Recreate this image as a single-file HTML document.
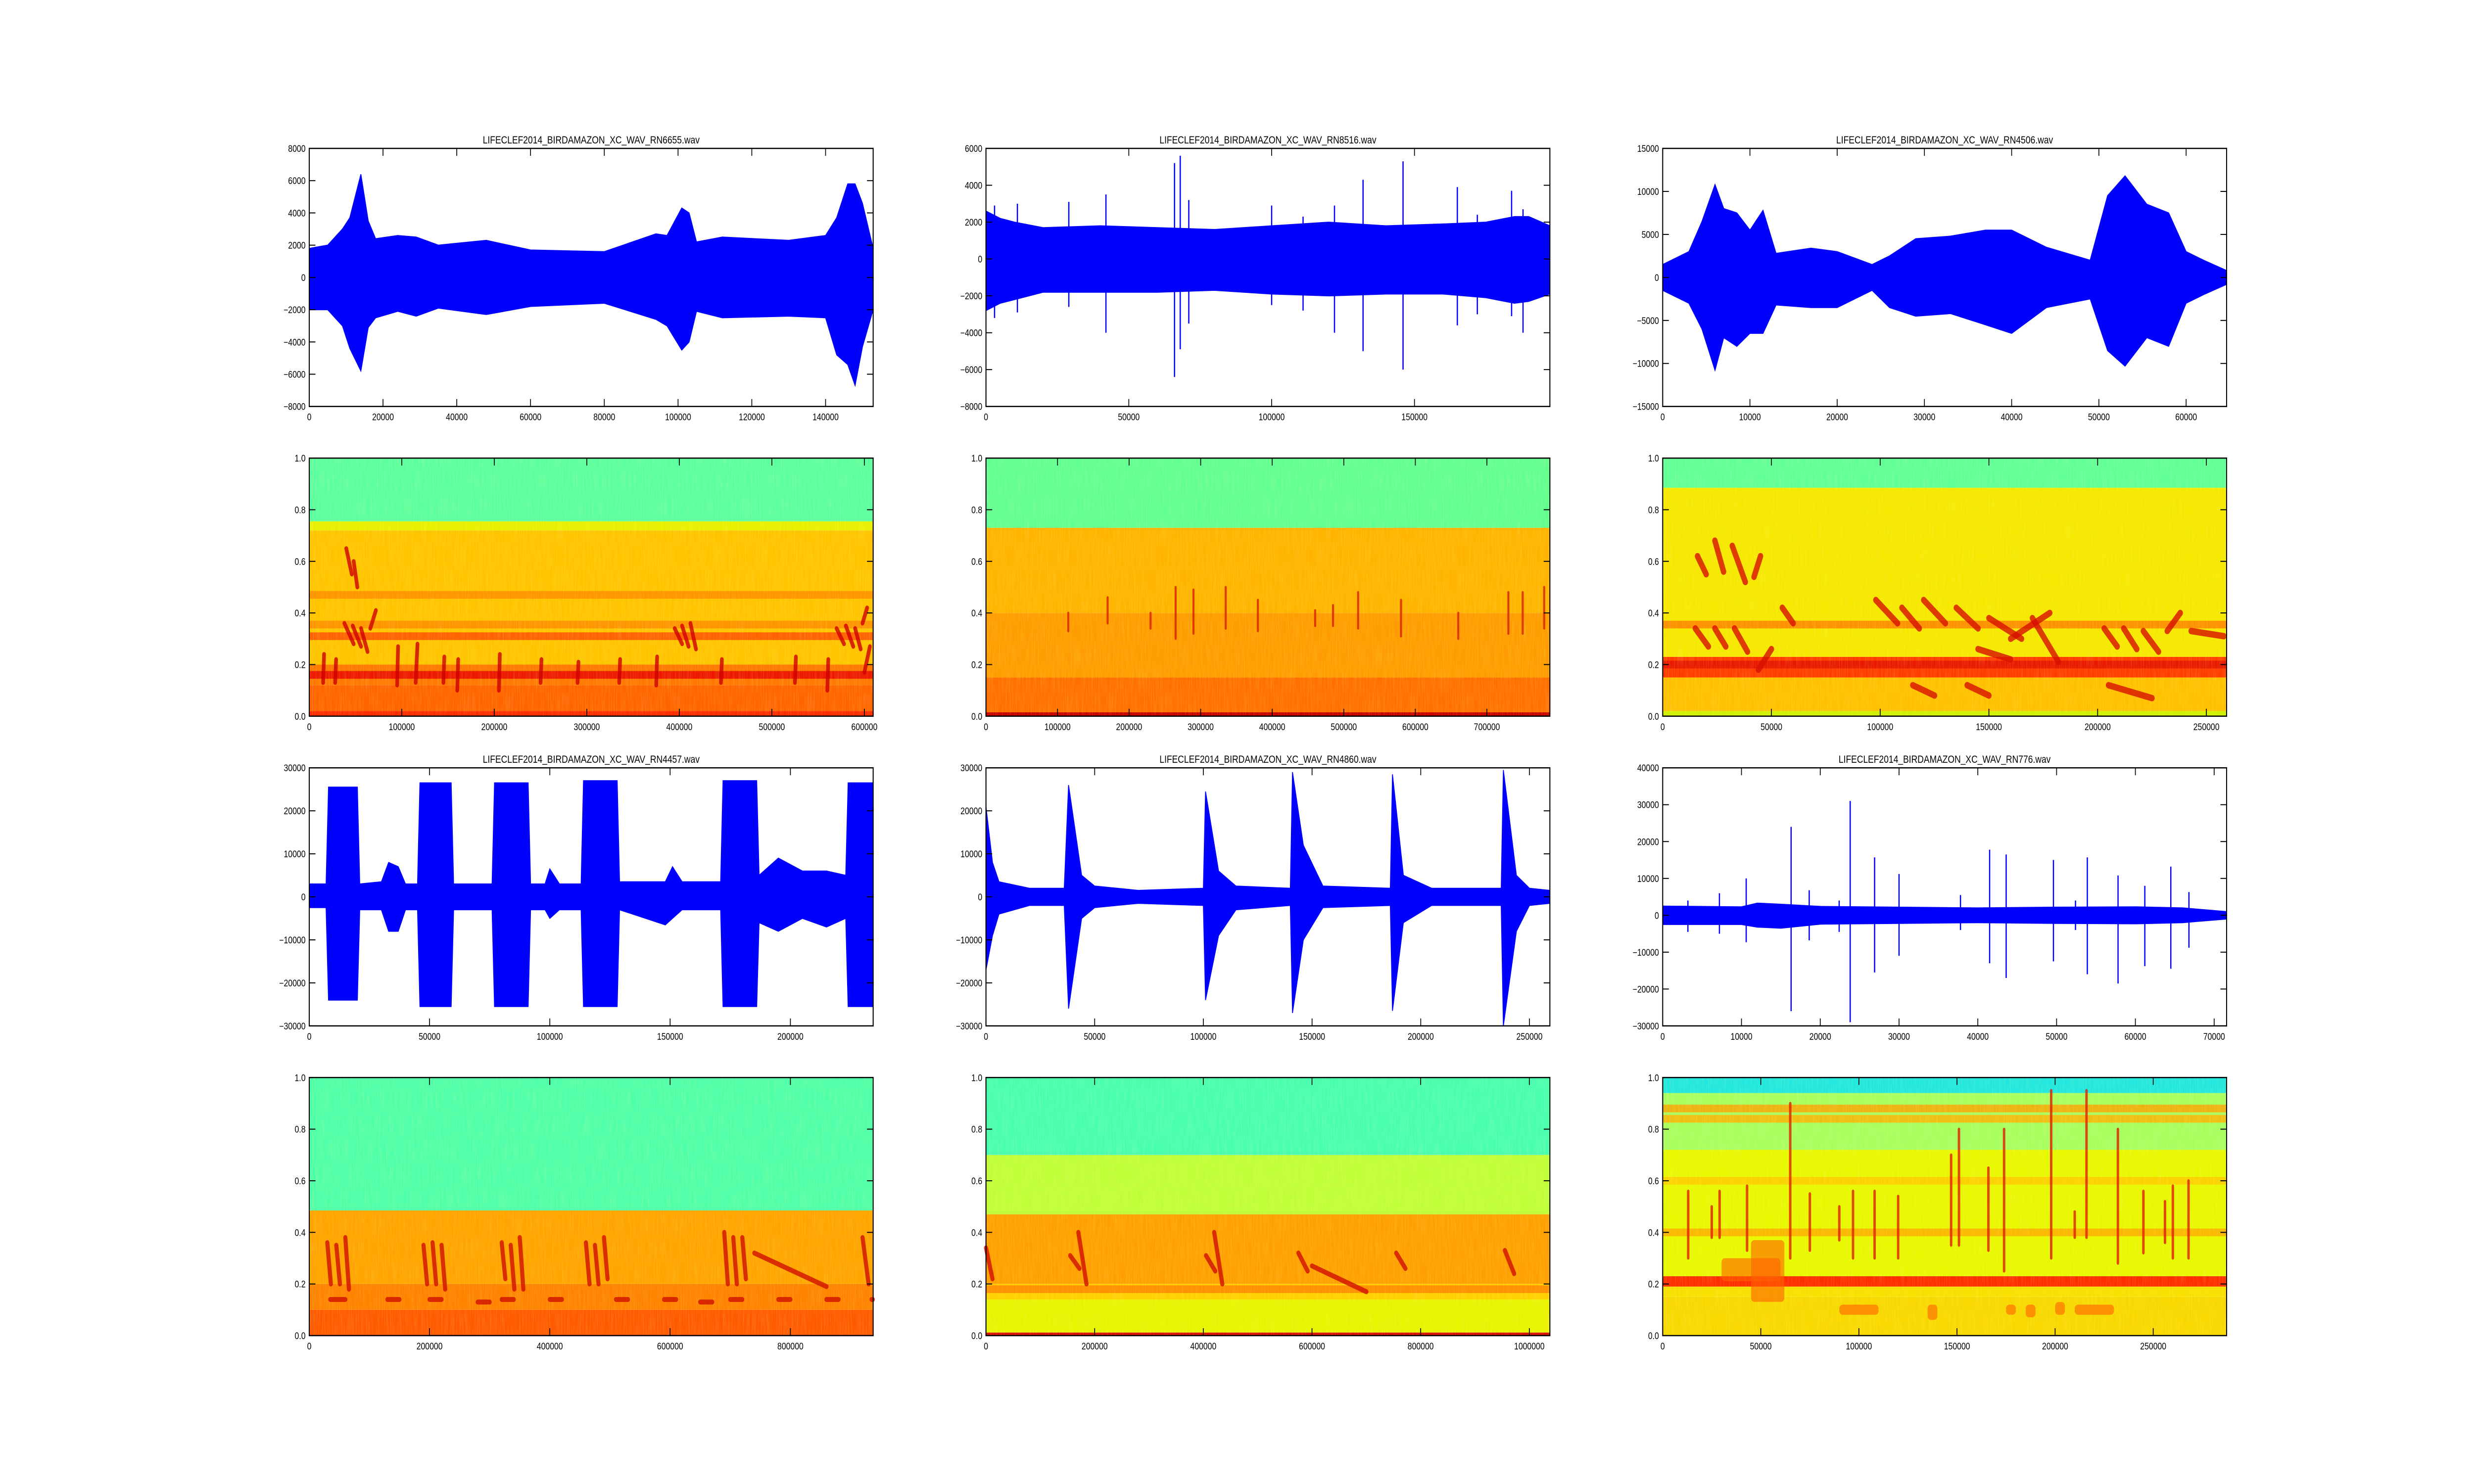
<!DOCTYPE html>
<html><head><meta charset="utf-8">
<style>
html,body{margin:0;padding:0;background:#fff;overflow:hidden;width:100%;height:100%;}
svg{display:block;position:absolute;left:0;top:0;width:100vw;height:100vh;}
text{font-family:"Liberation Sans",sans-serif;fill:#000;}
</style></head>
<body>
<svg id="fig" viewBox="0 0 6000 3000" preserveAspectRatio="none" xmlns="http://www.w3.org/2000/svg">
<defs>
<filter id="grain" x="0" y="0" width="1" height="1">
<feTurbulence type="fractalNoise" baseFrequency="0.35 0.02" numOctaves="2" seed="3" result="n"/>
<feColorMatrix in="n" type="matrix" values="0 0 0 0 1  0 0 0 0 1  0 0 0 0 0.3  0 0 0 -1.2 0.75" result="c"/>
<feComposite in="c" in2="SourceGraphic" operator="in"/>
</filter>
</defs>
</svg>
<script>
// ---------- Panel 1 waveform (RN6655) ----------
const w1EnvX=[0,5000,9000,11000,14000,16000,18000,24000,29000,35000,48000,60000,80000,94000,97000,101000,103000,105000,112000,130000,140000,143000,146000,148000,150000,152900];
const w1EnvHi=[1800,2000,3000,3700,6400,3500,2400,2600,2500,2000,2300,1700,1600,2700,2600,4300,4000,2200,2500,2300,2600,3700,5800,5800,4600,1800];
const w1EnvLo=[-2000,-2000,-3000,-4400,-5800,-3100,-2500,-2100,-2400,-1900,-2300,-1800,-1600,-2600,-3000,-4500,-4000,-2100,-2500,-2400,-2500,-4800,-5400,-6700,-4300,-2000];
// ---------- Panel 2 waveform (RN8516) ----------
const w2EnvX=[0,5000,10000,20000,40000,60000,80000,100000,120000,140000,160000,175000,185000,190000,197400];
const w2EnvHi=[2600,2200,2000,1700,1800,1700,1600,1800,2000,1800,1900,2000,2300,2300,1800];
const w2EnvLo=[-2800,-2400,-2200,-1800,-1800,-1800,-1700,-1900,-2000,-1900,-1900,-2100,-2400,-2300,-1900];
const w2SpX=[3000,11000,29000,42000,66000,68000,71000,100000,111000,122000,132000,146000,165000,172000,184000,188000];
const w2SpHi=[2900,3000,3100,3500,5200,5600,3200,2900,2300,2900,4300,5300,3900,2400,3700,2700];
const w2SpLo=[-3200,-2900,-2600,-4000,-6400,-4900,-3500,-2500,-2800,-4000,-5000,-6000,-3600,-3000,-3100,-4000];
// ---------- Panel 3 waveform (RN4506) ----------
const w3EnvX=[0,3000,4500,6000,7000,8500,10000,11500,13000,17000,20000,24000,26000,29000,33000,37000,40000,44000,49000,51000,53000,55500,58000,60000,62000,64640];
const w3EnvHi=[1500,3000,6500,10800,8000,7500,5500,7800,2800,3400,3000,1500,2500,4500,4800,5500,5500,3500,2000,9500,11800,8500,7500,3000,2000,800];
const w3EnvLo=[-1500,-3000,-6000,-10800,-7000,-8000,-6500,-6500,-3200,-3500,-3500,-1500,-3500,-4500,-4200,-5500,-6500,-3500,-2500,-8500,-10300,-7000,-8000,-3000,-2000,-800];
// ---------- Panel 4 waveform (RN4457) ----------
const w4EnvX=[0,7000,8000,20000,21000,30000,33000,37000,40000,45000,46000,59000,60000,76000,77000,91000,92000,98000,100000,104000,113000,114000,128000,129000,148000,151000,155000,171000,172000,186000,187000,195000,205000,215000,223000,224000,234400];
const w4EnvHi=[3000,3000,25500,25500,3000,3500,8000,7000,3000,3000,26500,26500,3000,3000,26500,26500,3000,3000,6500,3000,3000,27000,27000,3500,3500,7000,3500,3500,27000,27000,5000,9000,6000,6000,5000,26500,26500];
const w4EnvLo=[-2500,-2500,-24000,-24000,-3000,-3000,-8000,-8000,-3000,-3000,-25500,-25500,-3000,-3000,-25500,-25500,-3000,-3000,-5000,-3000,-3000,-25500,-25500,-3000,-6500,-5000,-3000,-3000,-25500,-25500,-6000,-8000,-5000,-7000,-5000,-25500,-25500];
// ---------- Panel 5 waveform (RN4860) ----------
const w5EnvX=[0,3000,6000,20000,36000,38000,44000,50000,70000,100000,101000,107000,115000,140000,141000,146000,155000,186000,187000,192000,205000,237000,238000,244000,250000,259400];
const w5EnvHi=[21000,8000,3500,2000,2000,26000,5000,2500,1500,2000,24500,6000,2500,2000,29000,12000,2500,2000,28500,5000,2000,2000,29500,5000,2000,1500];
const w5EnvLo=[-17000,-9000,-4000,-2000,-2000,-26000,-5000,-2500,-1500,-2000,-24000,-9000,-3000,-2000,-27000,-10000,-2500,-2000,-26500,-6000,-2000,-2000,-30000,-8000,-2000,-1500];
// ---------- Panel 6 waveform (RN776) ----------
const w6EnvX=[0,10000,12000,15000,20000,30000,40000,50000,60000,66000,71580];
const w6EnvHi=[2500,2300,3300,3000,2400,2200,2000,2200,2300,2000,1000];
const w6EnvLo=[-2500,-2500,-3200,-3500,-2400,-2200,-2000,-2200,-2300,-2000,-1000];
const w6SpX=[3200,7200,10600,16300,18600,22400,23800,26900,30000,37800,41500,43600,49600,52400,53900,57800,61200,64500,66800];
const w6SpHi=[4000,6000,10000,24000,6800,4000,31000,15700,11200,5500,17800,16500,15000,4000,15700,10800,8000,13200,6300];
const w6SpLo=[-4500,-5000,-7300,-26000,-6800,-4500,-29000,-15500,-11000,-4000,-13000,-17000,-12500,-4000,-16000,-18500,-13800,-14500,-8800];

// ---------- Spectrogram bands (freq 0..1) ----------
const s1BandF0=[0,0.02,0.12,0.2,0.72,0.755];
const s1BandF1=[0.02,0.12,0.2,0.72,0.755,1.0];
const s1BandC=["#ff2a00","#ff6400","#ff7800","#ffc400","#e8f000","#5cffa0"];
const s1LineF=[0.16,0.31,0.355,0.47];
const s1LineC=["#e80000","#ff4a00","#ff8800","#ff8a00"];
const s1CallX0=[38000,47000,56000,66000,40000,48000,395000,403000,412000,570000,580000,590000,598000,600000,15000,28000,95000,115000,145000,160000,205000,250000,290000,335000,375000,445000,525000,560000];
const s1CallX1=[48000,56000,63000,72000,46000,52000,403000,410000,418000,578000,588000,596000,603000,606000,16000,29000,96000,117000,146000,161000,206000,251000,291000,336000,376000,446000,526000,561000];
const s1CallF0=[0.36,0.35,0.34,0.34,0.65,0.6,0.34,0.35,0.36,0.34,0.35,0.34,0.36,0.17,0.13,0.13,0.12,0.13,0.13,0.1,0.1,0.13,0.13,0.13,0.12,0.13,0.13,0.1];
const s1CallF1=[0.28,0.27,0.25,0.41,0.55,0.5,0.28,0.27,0.26,0.28,0.27,0.26,0.42,0.27,0.24,0.22,0.27,0.28,0.23,0.22,0.24,0.22,0.21,0.22,0.23,0.22,0.23,0.22];

const s2BandF0=[0,0.015,0.15,0.4,0.73];
const s2BandF1=[0.015,0.15,0.4,0.73,1.0];
const s2BandC=["#c80000","#ff7000","#ff9c00","#ffb400","#62ff92"];
const s2LineF=[];
const s2LineC=[];
const s2CallX=[115000,170000,230000,265000,290000,335000,380000,460000,485000,520000,580000,660000,730000,750000,780000];
const s2CallF0=[0.33,0.36,0.34,0.3,0.32,0.34,0.33,0.35,0.35,0.34,0.31,0.3,0.32,0.32,0.34];
const s2CallF1=[0.4,0.46,0.4,0.5,0.49,0.5,0.45,0.41,0.43,0.48,0.45,0.4,0.48,0.48,0.5];

const s3BandF0=[0,0.02,0.15,0.23,0.885];
const s3BandF1=[0.02,0.15,0.23,0.885,1.0];
const s3BandC=["#d0f000","#ffc000","#ff3c00","#f6e800","#60ff98"];
const s3LineF=[0.355,0.2];
const s3LineC=["#ff7a00","#e21000"];
const s3CallX0=[15000,24000,33000,44000,55000,98000,110000,150000,160000,170000,203000,212000,221000,232000,243000,16000,24000,32000,42000,120000,135000,145000,140000,115000,205000];
const s3CallX1=[21000,29000,39000,50000,60000,108000,118000,165000,178000,182000,209000,218000,228000,238000,258000,20000,28000,38000,45000,130000,145000,160000,150000,125000,225000];
const s3CallF0=[0.34,0.34,0.34,0.18,0.42,0.45,0.42,0.38,0.3,0.38,0.34,0.34,0.33,0.33,0.33,0.62,0.68,0.66,0.54,0.45,0.42,0.26,0.12,0.12,0.12];
const s3CallF1=[0.27,0.27,0.25,0.26,0.36,0.36,0.34,0.3,0.4,0.21,0.27,0.26,0.25,0.4,0.31,0.55,0.56,0.52,0.62,0.36,0.34,0.22,0.08,0.08,0.07];

const s4BandF0=[0,0.1,0.2,0.485];
const s4BandF1=[0.1,0.2,0.485,1.0];
const s4BandC=["#ff5a00","#ff8200","#ffa400","#50ffaa"];
const s4LineF=[];
const s4LineC=[];
const s4CallX0=[30000,45000,60000,190000,205000,220000,320000,335000,350000,460000,475000,490000,690000,705000,720000,740000,920000,35000,130000,200000,280000,320000,400000,510000,590000,650000,700000,780000,860000,935000];
const s4CallX1=[36000,51000,66000,196000,211000,226000,326000,341000,356000,466000,481000,496000,696000,711000,726000,860000,930000,60000,150000,220000,300000,340000,420000,530000,610000,670000,720000,800000,880000,937000];
const s4CallF0=[0.36,0.35,0.38,0.35,0.36,0.35,0.36,0.35,0.38,0.36,0.35,0.38,0.4,0.38,0.38,0.32,0.38,0.14,0.14,0.14,0.13,0.14,0.14,0.14,0.14,0.13,0.14,0.14,0.14,0.14];
const s4CallF1=[0.2,0.2,0.18,0.2,0.2,0.18,0.22,0.18,0.18,0.2,0.2,0.22,0.2,0.2,0.22,0.19,0.2,0.14,0.14,0.14,0.13,0.14,0.14,0.14,0.14,0.13,0.14,0.14,0.14,0.14];

const s5BandF0=[0,0.012,0.14,0.2,0.47,0.7];
const s5BandF1=[0.012,0.14,0.2,0.47,0.7,1.0];
const s5BandC=["#d81000","#e8f400","#ffd000","#ffa000","#c0ff38","#48ffb0"];
const s5LineF=[0.18];
const s5LineC=["#ff8000"];
const s5CallX0=[0,155000,405000,575000,755000,955000,600000,170000,420000];
const s5CallX1=[12000,172000,422000,592000,772000,972000,700000,185000,435000];
const s5CallF0=[0.34,0.31,0.31,0.32,0.32,0.33,0.27,0.4,0.4];
const s5CallF1=[0.22,0.26,0.25,0.25,0.26,0.24,0.17,0.2,0.2];

const s6BandF0=[0,0.15,0.19,0.23,0.72,0.94];
const s6BandF1=[0.15,0.19,0.23,0.72,0.94,1.0];
const s6BandC=["#f8d800","#f8e000","#ff2c00","#e8f800","#a8ff60","#20e8e0"];
const s6LineF=[0.4,0.6,0.88,0.84];
const s6LineC=["#ffa800","#ffc800","#ffa000","#ffb000"];
const s6CallX=[13000,25000,29000,43000,65000,75000,90000,97000,108000,120000,147000,151000,166000,174000,198000,210000,216000,232000,245000,256000,260000,268000];
const s6CallF0=[0.3,0.38,0.38,0.33,0.3,0.33,0.37,0.3,0.3,0.3,0.35,0.35,0.33,0.25,0.3,0.38,0.38,0.28,0.32,0.36,0.3,0.3];
const s6CallF1=[0.56,0.5,0.56,0.58,0.9,0.55,0.5,0.56,0.56,0.54,0.7,0.8,0.65,0.8,0.95,0.48,0.95,0.8,0.56,0.52,0.58,0.6];
const s6BlobX0=[30000,45000,90000,135000,175000,185000,200000,210000];
const s6BlobX1=[60000,62000,110000,140000,180000,190000,205000,230000];
const s6BlobF0=[0.23,0.37,0.1,0.08,0.1,0.09,0.1,0.1];
const s6BlobF1=[0.3,0.15,0.12,0.12,0.12,0.12,0.13,0.12];

// ---------- layout ----------
const NS="http://www.w3.org/2000/svg";
const svg=document.getElementById('fig');
const colX=[750,2391.2,4032.4], W=1367.6;
const rowY=[300,926.1,1552.2,2178.3], H=521.7;
function el(tag,attrs,parent){const e=document.createElementNS(NS,tag);for(const k in attrs)e.setAttribute(k,attrs[k]);(parent||svg).appendChild(e);return e;}
function fmt(v,dec){let s=dec?v.toFixed(1):String(Math.round(v));return s.replace('-','\u2212');}

function axes(c,r,xmax,xstep,ymin,ymax,ystep,dec,name){
  const x0=colX[c],y0=rowY[r];
  const sx=v=>x0+v/xmax*W, sy=v=>y0+H-(v-ymin)/(ymax-ymin)*H;
  return {x0,y0,sx,sy,xmax,xstep,ymin,ymax,ystep,dec,name};
}
function frame(a){
  const g=el('g',{});
  
  
  el('rect',{x:a.x0,y:a.y0,width:W,height:H,fill:'none',stroke:'#000','stroke-width':2.5},g);
  for(let v=0;v<=a.xmax+1e-9;v+=a.xstep){
    const x=a.sx(v);
    el('line',{x1:x,y1:a.y0+H,x2:x,y2:a.y0+H-15,stroke:'#000','stroke-width':2},g);
    el('line',{x1:x,y1:a.y0,x2:x,y2:a.y0+15,stroke:'#000','stroke-width':2},g);
    const t=el('text',{x:x,y:a.y0+H+28,'font-size':19,'text-anchor':'middle'},g);
    
    
    t.textContent=fmt(v,false);
  }
  const n=Math.round((a.ymax-a.ymin)/a.ystep);
  for(let i=0;i<=n;i++){
    const v=a.ymin+i*a.ystep, y=a.sy(v);
    el('line',{x1:a.x0,y1:y,x2:a.x0+15,y2:y,stroke:'#000','stroke-width':2},g);
    el('line',{x1:a.x0+W,y1:y,x2:a.x0+W-15,y2:y,stroke:'#000','stroke-width':2},g);
    const t=el('text',{x:a.x0-9,y:y+7,'font-size':19,'text-anchor':'end'},g);
    
    
    t.textContent=fmt(v,a.dec);
  }
}
function title(a,txt){
  const t=el('text',{x:a.x0+W/2,y:a.y0-10,'font-size':21,'text-anchor':'middle'});
  
  
  t.textContent=txt;
}
function wave(a,ex,hi,lo,spx,sphi,splo){
  const g=el('g',{});
  
  
  let pts=[];
  for(let i=0;i<ex.length;i++)pts.push(a.sx(ex[i]).toFixed(1)+','+a.sy(hi[i]).toFixed(1));
  for(let i=ex.length-1;i>=0;i--)pts.push(a.sx(ex[i]).toFixed(1)+','+a.sy(lo[i]).toFixed(1));
  const p=el('polygon',{points:pts.join(' '),fill:'#0000ff',stroke:'#0000ff','stroke-width':2},g);
  
  
  if(spx){for(let i=0;i<spx.length;i++){
    const l=el('line',{x1:a.sx(spx[i]),x2:a.sx(spx[i]),y1:a.sy(sphi[i]),y2:a.sy(splo[i]),stroke:'#0000ff','stroke-width':3},g);
    
    
  }}
}
function spec(a,bf0,bf1,bc,lf,lc){
  const g=el('g',{});
  
  
  for(let i=0;i<bf0.length;i++){
    const r=el('rect',{x:a.x0,y:a.sy(bf1[i]),width:W,height:a.sy(bf0[i])-a.sy(bf1[i]),fill:bc[i]},g);
    
    
  }
  for(let i=0;i<lf.length;i++){
    const r=el('rect',{x:a.x0,y:a.sy(lf[i]+0.015),width:W,height:a.sy(0)-a.sy(0.03),fill:lc[i],opacity:0.8},g);
    
    
  }
  const n=el('rect',{x:a.x0,y:a.y0,width:W,height:H,fill:'#000',filter:'url(#grain)',opacity:0.25},g);
  
  
  return g;
}
function strokes(a,g,x0s,x1s,f0s,f1s,color,sw){
  for(let i=0;i<x0s.length;i++){
    const l=el('line',{x1:a.sx(x0s[i]),x2:a.sx(x1s?x1s[i]:x0s[i]),y1:a.sy(f0s[i]),y2:a.sy(f1s[i]),stroke:color,'stroke-width':sw,'stroke-linecap':'round',opacity:0.8},g);
    
    
  }
}
function blobs(a,g,x0s,x1s,f0s,f1s,color){
  for(let i=0;i<x0s.length;i++){
    const x=Math.min(a.sx(x0s[i]),a.sx(x1s[i])), y=Math.min(a.sy(f0s[i]),a.sy(f1s[i]));
    const r=el('rect',{x:x,y:y,width:Math.abs(a.sx(x1s[i])-a.sx(x0s[i])),height:Math.abs(a.sy(f1s[i])-a.sy(f0s[i]))+10,fill:color,opacity:0.6,rx:8},g);
    
    
  }
}

let a,g;
a=axes(0,0,152900,20000,-8000,8000,2000,false,'rn6655-wave'); wave(a,w1EnvX,w1EnvHi,w1EnvLo); frame(a); title(a,'LIFECLEF2014_BIRDAMAZON_XC_WAV_RN6655.wav');
a=axes(1,0,197400,50000,-8000,6000,2000,false,'rn8516-wave'); wave(a,w2EnvX,w2EnvHi,w2EnvLo,w2SpX,w2SpHi,w2SpLo); frame(a); title(a,'LIFECLEF2014_BIRDAMAZON_XC_WAV_RN8516.wav');
a=axes(2,0,64640,10000,-15000,15000,5000,false,'rn4506-wave'); wave(a,w3EnvX,w3EnvHi,w3EnvLo); frame(a); title(a,'LIFECLEF2014_BIRDAMAZON_XC_WAV_RN4506.wav');
a=axes(0,1,609500,100000,0,1,0.2,true,'rn6655-spec'); g=spec(a,s1BandF0,s1BandF1,s1BandC,s1LineF,s1LineC); strokes(a,g,s1CallX0,s1CallX1,s1CallF0,s1CallF1,'#d00000',9); frame(a);
a=axes(1,1,788000,100000,0,1,0.2,true,'rn8516-spec'); g=spec(a,s2BandF0,s2BandF1,s2BandC,s2LineF,s2LineC); strokes(a,g,s2CallX,null,s2CallF0,s2CallF1,'#d82000',5); frame(a);
a=axes(2,1,259300,50000,0,1,0.2,true,'rn4506-spec'); g=spec(a,s3BandF0,s3BandF1,s3BandC,s3LineF,s3LineC); strokes(a,g,s3CallX0,s3CallX1,s3CallF0,s3CallF1,'#d81000',13); frame(a);
a=axes(0,2,234400,50000,-30000,30000,10000,false,'rn4457-wave'); wave(a,w4EnvX,w4EnvHi,w4EnvLo); frame(a); title(a,'LIFECLEF2014_BIRDAMAZON_XC_WAV_RN4457.wav');
a=axes(1,2,259400,50000,-30000,30000,10000,false,'rn4860-wave'); wave(a,w5EnvX,w5EnvHi,w5EnvLo); frame(a); title(a,'LIFECLEF2014_BIRDAMAZON_XC_WAV_RN4860.wav');
a=axes(2,2,71580,10000,-30000,40000,10000,false,'rn776-wave'); wave(a,w6EnvX,w6EnvHi,w6EnvLo,w6SpX,w6SpHi,w6SpLo); frame(a); title(a,'LIFECLEF2014_BIRDAMAZON_XC_WAV_RN776.wav');
a=axes(0,3,937600,200000,0,1,0.2,true,'rn4457-spec'); g=spec(a,s4BandF0,s4BandF1,s4BandC,s4LineF,s4LineC); strokes(a,g,s4CallX0,s4CallX1,s4CallF0,s4CallF1,'#d01000',10); frame(a);
a=axes(1,3,1037800,200000,0,1,0.2,true,'rn4860-spec'); g=spec(a,s5BandF0,s5BandF1,s5BandC,s5LineF,s5LineC); strokes(a,g,s5CallX0,s5CallX1,s5CallF0,s5CallF1,'#d01000',10); frame(a);
a=axes(2,3,287400,50000,0,1,0.2,true,'rn776-spec'); g=spec(a,s6BandF0,s6BandF1,s6BandC,s6LineF,s6LineC); strokes(a,g,s6CallX,null,s6CallF0,s6CallF1,'#e02000',6); blobs(a,g,s6BlobX0,s6BlobX1,s6BlobF0,s6BlobF1,'#ff6000'); frame(a);
</script>
</body></html>
